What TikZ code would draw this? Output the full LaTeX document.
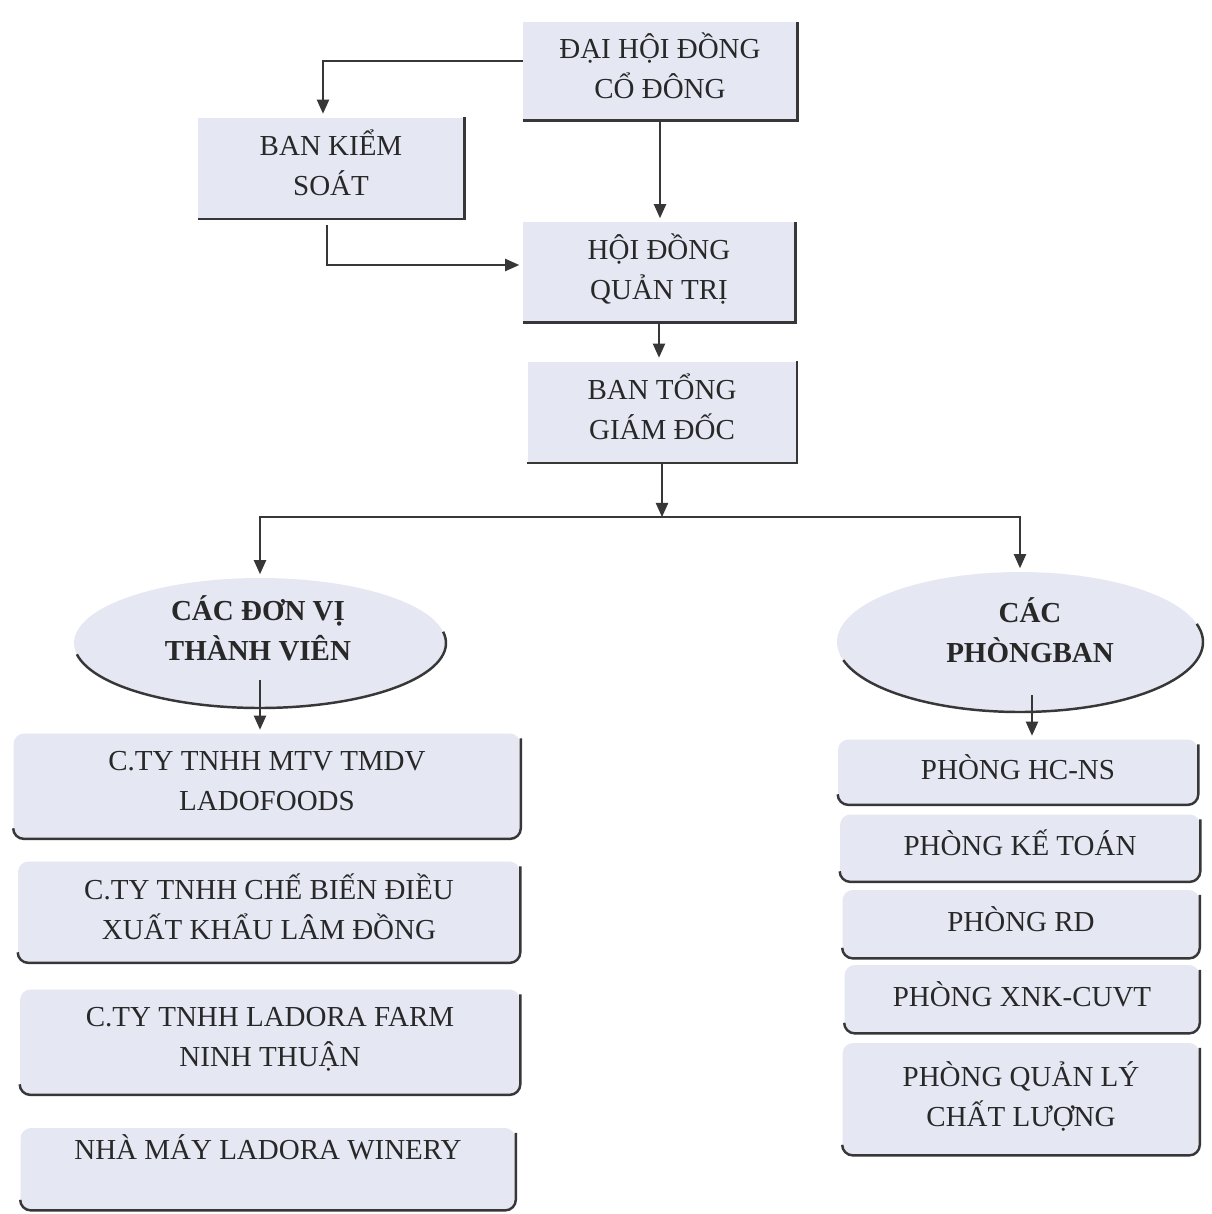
\documentclass[tikz,border=0pt]{standalone}
\usepackage{fontspec}
\setmainfont{Liberation Serif}
\usetikzlibrary{shapes.geometric,arrows.meta}

\definecolor{boxfill}{RGB}{229,231,243}
\definecolor{linegray}{RGB}{55,55,55}
\definecolor{textgray}{RGB}{40,40,40}

\tikzset{
  box/.style={fill=boxfill, inner sep=0pt, align=center, text=textgray,
    font=\fontsize{16.5}{22.8}\selectfont,
    execute at end node=\rule[-6pt]{0pt}{0pt}},
  rbox/.style={box, rounded corners=6pt},
  oval/.style={ellipse, fill=boxfill, inner sep=0pt},
  headtext/.style={align=center, text=textgray,
    font=\fontsize{16.5}{22.8}\selectfont\bfseries},
  arr/.style={draw=linegray, line width=0.8pt,
    -{Triangle[length=8pt,width=7pt]}, shorten >=2pt},
  shadowline/.style={draw=linegray, line width=1.4pt},
}

\begin{document}
\begin{tikzpicture}[x=0.02cm,y=-0.02cm]

\fill[white] (0,0) rectangle (1212,1214);
\useasboundingbox (0,0) rectangle (1212,1214);

% upper levels
\node[box, minimum width=5.48cm, minimum height=1.96cm] (dhdcd) at (660,71) {ĐẠI HỘI ĐỒNG\\CỔ ĐÔNG};
\node[box, minimum width=5.32cm, minimum height=2.02cm] (bks) at (331,168) {BAN KIỂM\\SOÁT};
\node[box, minimum width=5.44cm, minimum height=2cm] (hdqt) at (659,272) {HỘI ĐỒNG\\QUẢN TRỊ};
\node[box, minimum width=5.38cm, minimum height=2.02cm] (btgd) at (662,412) {BAN TỔNG\\GIÁM ĐỐC};

\foreach \n in {dhdcd,bks,hdqt,btgd}
  \draw[shadowline] (\n.south west) -| (\n.north east);

% two branches
\node[oval, minimum width=7.44cm, minimum height=2.6cm] (donvi) at (260,643) {};
\node[headtext] (donvit) at (258,628) {CÁC ĐƠN VỊ\\THÀNH VIÊN};
\node[oval, minimum width=7.32cm, minimum height=2.8cm] (phong) at (1020,642) {};
\node[headtext] (phongt) at (1030,630) {CÁC\\PHÒNGBAN};

\draw[shadowline] ([shift={(190:3.72cm and 1.3cm)}]donvi.center)
  arc[start angle=190, end angle=370, x radius=3.72cm, y radius=1.3cm];
\draw[shadowline] ([shift={(195:3.66cm and 1.4cm)}]phong.center)
  arc[start angle=195, end angle=375, x radius=3.66cm, y radius=1.4cm];

% member companies
\node[rbox, minimum width=10.14cm, minimum height=2.1cm] (ct1) at (267,786) {C.TY TNHH MTV TMDV\\LADOFOODS};
\node[rbox, minimum width=10.04cm, minimum height=2.02cm] (ct2) at (269,912) {C.TY TNHH CHẾ BIẾN ĐIỀU\\XUẤT KHẨU LÂM ĐỒNG};
\node[rbox, minimum width=10cm, minimum height=2.1cm] (ct3) at (270,1042) {C.TY TNHH LADORA FARM\\NINH THUẬN};
\node[rbox, minimum width=9.9cm, minimum height=1.64cm] (ct4) at (268,1169) {NHÀ MÁY LADORA WINERY\\[-4pt]\mbox{}};

% departments
\node[rbox, minimum width=7.2cm, minimum height=1.3cm] (hcns) at (1018,772) {PHÒNG HC-NS};
\node[rbox, minimum width=7.2cm, minimum height=1.34cm] (ketoan) at (1020,848) {PHÒNG KẾ TOÁN};
\node[rbox, minimum width=7.14cm, minimum height=1.36cm] (rd) at (1021,924) {PHÒNG RD};
\node[rbox, minimum width=7.1cm, minimum height=1.36cm] (xnk) at (1022,999) {PHÒNG XNK-CUVT};
\node[rbox, minimum width=7.14cm, minimum height=2.24cm] (qlcl) at (1021,1099) {PHÒNG QUẢN LÝ\\CHẤT LƯỢNG};

\foreach \n in {ct1,ct2,ct3,ct4,hcns,ketoan,rd,xnk,qlcl}
  \draw[shadowline, rounded corners=6pt] ([yshift=6pt]\n.south west) -- (\n.south west)
    -- (\n.south east) -- ([yshift=-3pt]\n.north east);

% connectors
\coordinate (split) at (662,517);

\draw[arr] ([yshift=0.2cm]dhdcd.west) -| ([xshift=-0.16cm]bks.north);
\draw[arr] (dhdcd.south) -- (dhdcd.south |- hdqt.north);
\draw[arr] ([xshift=-0.08cm,yshift=-0.12cm]bks.south) |- ([yshift=0.14cm]hdqt.west);
\draw[arr] (hdqt.south) -- (hdqt.south |- btgd.north);
\draw[arr, shorten >=0pt] (btgd.south) -- (split);
\draw[arr] (split) -| (donvi.north);
\draw[arr] (split) -| (phong.north);
\draw[arr] ([yshift=-0.74cm]donvi.center) -- (donvi.center |- ct1.north);
\draw[arr] ([xshift=0.24cm,yshift=-1.06cm]phong.center) -- ([xshift=0.24cm]phong.center |- hcns.north);

\end{tikzpicture}
\end{document}
